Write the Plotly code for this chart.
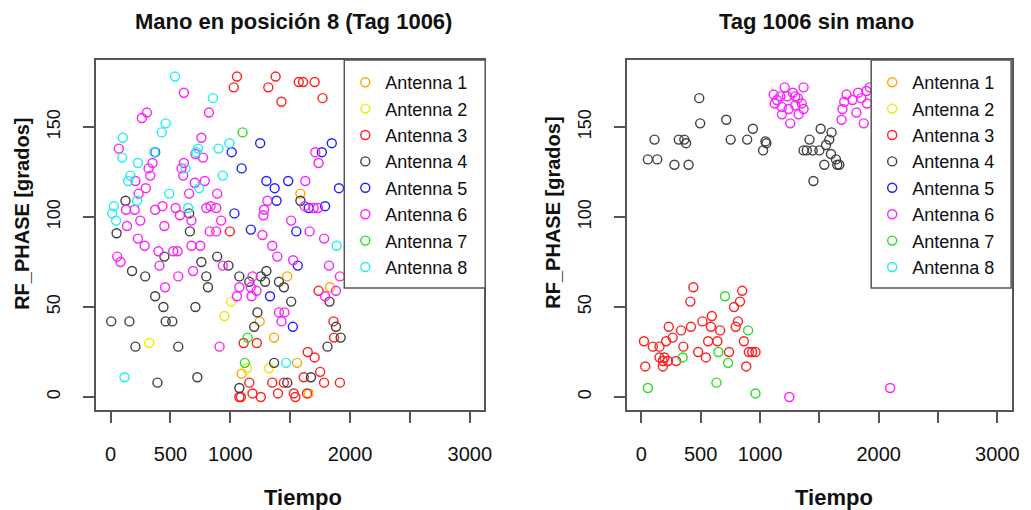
import plotly.graph_objects as go

# ---------------- data ----------------
antennas = ["Antenna 1", "Antenna 2", "Antenna 3", "Antenna 4",
            "Antenna 5", "Antenna 6", "Antenna 7", "Antenna 8"]
colors = ["#FFA500", "#F2E600", "#FF2020", "#404040",
          "#2020FF", "#FF20FF", "#20E020", "#20F0F0"]

x_ticks = [0, 500, 1000, 1500, 2000, 2500, 3000]
x_tick_labels = ["0", "500", "1000", "", "2000", "", "3000"]
y_ticks = [0, 50, 100, 150]
y_tick_labels = ["0", "50", "100", "150"]

# Left panel: "Mano en posición 8 (Tag 1006)"
hand_t_a1 = [1585, 1475, 1833, 1245, 1365, 1557, 1094, 1654]
hand_ph_a1 = [113, 67, 61, 42, 33, 19, 13, 2]
hand_t_a2 = [1006, 951, 323, 1323, 1138]
hand_ph_a2 = [53, 45, 30, 16, 16]
hand_t_a3 = [1055, 1028, 1378, 1317, 1427, 1571, 1607, 1704, 1770, 996, 1737, 1861, 1866,
             1111, 1221, 1646, 1704, 1750, 1613, 1783, 1915, 1158, 1350, 1447, 1185, 1254,
             1075, 1088, 1398, 1530, 1543, 1640]
hand_ph_a3 = [178, 172, 178, 172, 164, 175, 175, 175, 166, 92, 59, 42, 33,
              30, 30, 25, 22, 14, 11, 8, 8, 8, 8, 8, 2, 0,
              0, 0, 2, 2, 0, 2]
hand_t_a4 = [124, 1585, 656, 662, 50, 449, 758, 890, 984, 179, 289, 799, 813, 372, 441, 708,
             1075, 1254, 1301, 1290, 1406, 1447, 1158, 1508, 1226, 1199, 5, 157, 460, 515,
             207, 565, 391, 724, 1365, 1075, 1475, 1673, 1811, 1882, 1921, 1828]
hand_ph_a4 = [109, 109, 102, 92, 91, 78, 75, 78, 73, 70, 67, 67, 61, 56, 50, 50,
              67, 67, 70, 64, 64, 61, 64, 53, 47, 39, 42, 42, 42, 42,
              28, 28, 8, 11, 19, 5, 8, 11, 28, 39, 33, 53]
hand_t_a5 = [1249, 1011, 1094, 1301, 1370, 1483, 1386, 1764, 1847, 1907, 1791, 1654, 1034,
             1171, 1551, 372, 1563, 1331, 1522]
hand_ph_a5 = [141, 136, 127, 120, 116, 120, 109, 136, 141, 116, 106, 105, 102,
              93, 92, 136, 73, 56, 39]
hand_t_a6 = [612, 303, 261, 821, 758, 69, 708, 772, 612, 592, 606, 350, 317, 331, 207, 294,
             234, 703, 786, 890, 656, 1709, 1737, 1626, 1309, 1282, 1276, 1508, 1621, 1695,
             1731, 799, 835, 882, 543, 372, 433, 579, 675, 923, 137, 248, 449, 129, 201,
             827, 882, 1662, 228, 284, 55, 83, 399, 523, 559, 675, 749, 408, 565, 689, 455,
             937, 1268, 1350, 1392, 1783, 1824, 1915, 1524, 1185, 1075, 1171, 1218, 1055,
             1177, 1406, 1452, 1427, 910, 1791, 1882]
hand_ph_a6 = [169, 158, 155, 158, 144, 138, 135, 133, 130, 127, 123, 130, 127, 123, 120, 116,
              113, 119, 120, 113, 113, 136, 130, 120, 109, 104, 101, 98, 106, 105,
              105, 105, 106, 105, 105, 104, 106, 101, 98, 98, 95, 98, 95, 104, 104,
              92, 92, 92, 88, 84, 78, 75, 81, 81, 81, 84, 84, 73, 67, 70, 61,
              73, 90, 84, 78, 88, 73, 67, 76, 67, 61, 61, 59, 56,
              56, 47, 47, 42, 28, 56, 59]
hand_t_a7 = [1102, 1144, 1121]
hand_ph_a7 = [147, 33, 19]
hand_t_a8 = [538, 854, 460, 427, 102, 96, 228, 366, 730, 716, 901, 992, 937, 165, 146, 220,
             490, 739, 625, 648, 27, 13, 46, 1888, 116, 1466]
hand_ph_a8 = [178, 166, 152, 147, 144, 133, 130, 136, 138, 136, 138, 141, 123, 123, 120, 109,
              113, 116, 127, 105, 106, 102, 98, 84, 11, 19]

# Right panel: "Tag 1006 sin mano"
free_t_a1 = []
free_ph_a1 = []
free_t_a2 = []
free_ph_a2 = []
free_t_a3 = [438, 413, 850, 831, 781, 231, 335, 418, 515, 594, 586, 664, 814, 795, 22, 97,
             153, 209, 264, 354, 563, 641, 864, 479, 544, 739, 906, 934, 962, 153, 195, 223,
             293, 181, 33, 181, 884]
free_ph_a3 = [61, 53, 59, 53, 50, 39, 37, 39, 42, 45, 39, 37, 42, 39, 31, 28,
              28, 31, 33, 28, 31, 31, 31, 25, 22, 25, 25, 25, 25, 22, 22, 20,
              20, 20, 17, 17, 17]
free_t_a4 = [488, 496, 111, 315, 362, 377, 55, 134, 279, 398, 716, 753, 892, 940, 1026, 1054,
             1046, 1417, 1367, 1394, 1444, 1500, 1511, 1603, 1584, 1556, 1598, 1640, 1668,
             1651, 1542, 1450]
free_ph_a4 = [166, 152, 143, 143, 143, 141, 132, 132, 129, 129, 154, 143, 143, 149, 137, 141,
              142, 143, 137, 137, 137, 137, 149, 147, 143, 140, 135, 132, 129,
              129, 129, 120]
free_t_a5 = []
free_ph_a5 = []
free_t_a6 = [1208, 1367, 1115, 1143, 1124, 1171, 1227, 1277, 1297, 1319, 1185, 1241, 1297,
             1352, 1367, 1185, 1325, 1255, 1729, 1827, 1896, 1925, 1710, 1779, 1854, 1902,
             1695, 1687, 1813, 1874, 1247, 2097]
free_ph_a6 = [172, 172, 168, 165, 163, 167, 167, 169, 167, 166, 161, 160, 162,
              163, 160, 157, 157, 152, 168, 169, 170, 172, 164, 165, 166, 163,
              160, 154, 158, 152, 0, 5]
free_t_a7 = [705, 900, 649, 348, 731, 55, 633, 962]
free_ph_a7 = [56, 37, 25, 22, 19, 5, 8, 2]
free_t_a8 = []
free_ph_a8 = []

hand_t = [hand_t_a1, hand_t_a2, hand_t_a3, hand_t_a4, hand_t_a5, hand_t_a6, hand_t_a7, hand_t_a8]
hand_ph = [hand_ph_a1, hand_ph_a2, hand_ph_a3, hand_ph_a4, hand_ph_a5, hand_ph_a6, hand_ph_a7, hand_ph_a8]
free_t = [free_t_a1, free_t_a2, free_t_a3, free_t_a4, free_t_a5, free_t_a6, free_t_a7, free_t_a8]
free_ph = [free_ph_a1, free_ph_a2, free_ph_a3, free_ph_a4, free_ph_a5, free_ph_a6, free_ph_a7, free_ph_a8]

# ---------------- figure ----------------
W, H = 1031, 510
FONT = "Liberation Sans, Arial, sans-serif"

fig = go.Figure()

def add_panel(ts, phs, xa, ya, leg):
    for i, name in enumerate(antennas):
        x = ts[i] if ts[i] else [None]
        y = phs[i] if phs[i] else [None]
        fig.add_trace(go.Scatter(
            x=x, y=y, mode="markers", name=name,
            marker=dict(symbol="circle-open", size=9, color=colors[i],
                        line=dict(width=1.4, color=colors[i])),
            xaxis=xa, yaxis=ya, legend=leg, hoverinfo="x+y+name"))

add_panel(hand_t, hand_ph, "x", "y", "legend")
add_panel(free_t, free_ph, "x2", "y2", "legend2")

ydom = [100 / H, 450 / H]
xdom1 = [97 / W, 488 / W]
xdom2 = [632 / W, 1019.5 / W]

axis_common = dict(
    showline=True, mirror=True, linecolor="#555555", linewidth=1.5,
    ticks="outside", ticklen=11, tickwidth=1.5, tickcolor="#555555",
    showgrid=False, zeroline=False,
)

xcommon = dict(axis_common, range=[-120, 3120], tickmode="array",
               tickvals=x_ticks, ticktext=x_tick_labels,
               tickfont=dict(family=FONT, size=20, color="#111111"),
               ticklabelstandoff=14)
ycommon = dict(axis_common, range=[-7.2, 187.2], tickmode="array",
               tickvals=y_ticks, ticktext=y_tick_labels, tickangle=-90,
               tickfont=dict(family=FONT, size=18, color="#111111"),
               ticklabelstandoff=16)

fig.update_layout(
    width=W, height=H, autosize=False,
    margin=dict(l=0, r=0, t=0, b=0),
    paper_bgcolor="white", plot_bgcolor="white",
    font=dict(family=FONT, color="#111111"),
    xaxis=dict(xcommon, domain=xdom1, anchor="y"),
    yaxis=dict(ycommon, domain=ydom, anchor="x"),
    xaxis2=dict(xcommon, domain=xdom2, anchor="y2"),
    yaxis2=dict(ycommon, domain=ydom, anchor="x2"),
    legend=dict(x=348 / W, xanchor="left", y=1 - 64 / H, yanchor="top",
                bgcolor="rgba(0,0,0,0)", borderwidth=0,
                font=dict(family=FONT, size=18, color="#111111"),
                tracegroupgap=0, itemclick=False),
    legend2=dict(x=879 / W, xanchor="left", y=1 - 64 / H, yanchor="top",
                 bgcolor="rgba(0,0,0,0)", borderwidth=0,
                 font=dict(family=FONT, size=18, color="#111111"),
                 tracegroupgap=0, itemclick=False),
    showlegend=True,
)

# legend frames (white-filled boxes above the data, like R's legend())
for x0, x1 in [(347, 489), (878, 1019)]:
    fig.add_shape(type="rect", xref="paper", yref="paper",
                  x0=x0 / W, x1=x1 / W, y0=1 - 288 / H, y1=1 - 60 / H,
                  fillcolor="white", line=dict(color="#555555", width=1.5),
                  layer="above")

def ann(text, xpx, ypx, size, bold=True, angle=0):
    fig.add_annotation(text=("<b>%s</b>" % text) if bold else text,
                       xref="paper", yref="paper", x=xpx / W, y=1 - ypx / H,
                       xanchor="center", yanchor="middle", showarrow=False,
                       textangle=angle,
                       font=dict(family=FONT, size=size, color="#111111"))

ann("Mano en posición 8 (Tag 1006)", 296, 22, 22)
ann("Tag 1006 sin mano", 823, 22, 22)
ann("Tiempo", 305, 497, 22)
ann("Tiempo", 841, 497, 22)
ann("RF_PHASE [grados]", 22, 214, 20, angle=-90)
ann("RF_PHASE [grados]", 557, 213, 20, angle=-90)

fig.write_html("out.html")
